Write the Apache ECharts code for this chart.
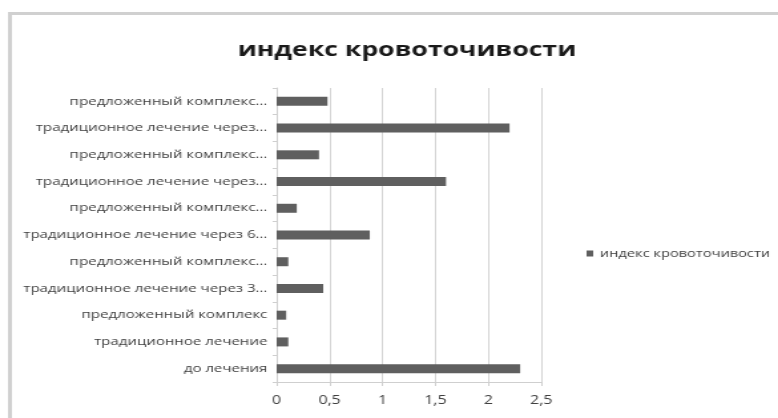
<!DOCTYPE html>
<html>
<head>
    <meta charset="utf-8">
    <title>индекс кровоточивости</title>
    <script src="https://cdn.jsdelivr.net/npm/echarts@6/dist/echarts.min.js"></script>
    <style>
        html, body { margin: 0; padding: 0; background: #fff; overflow: hidden; }
        /* исходная картинка растянута по горизонтали, повторяем это */
        #chart1 { width: 585px; height: 418px; transform: scaleX(1.33); transform-origin: 0 0; }
    </style>
</head>
<body>
<div id="chart1"></div>
<script type="text/javascript">
    // категории снизу вверх
    var categories = [
        'до лечения',
        'традиционное лечение',
        'предложенный комплекс',
        'традиционное лечение через 3...',
        'предложенный комплекс...',
        'традиционное лечение через 6...',
        'предложенный комплекс...',
        'традиционное лечение через...',
        'предложенный комплекс...',
        'традиционное лечение через...',
        'предложенный комплекс...'
    ];
    var values = [2.3, 0.11, 0.09, 0.44, 0.11, 0.88, 0.19, 1.6, 0.4, 2.2, 0.48];
    var xTicks = [0, 0.5, 1, 1.5, 2, 2.5];
    var seriesName = 'индекс кровоточивости';

    // у категорий повторяются подписи, поэтому ось строится по индексам
    var idx = categories.map(function (c, i) { return String(i); });

    var myChart1 = echarts.init(document.getElementById('chart1'));
    myChart1.setOption({
        animation: false,
        graphic: [{
            type: 'rect',
            shape: { x: 7.5, y: 13.5, width: 700, height: 420 },
            style: { fill: 'none', stroke: '#d0d0d0', lineWidth: 3 },
            z: -1
        }],
        title: {
            text: seriesName,
            left: 301,
            top: 35,
            textAlign: 'center',
            textStyle: {
                fontFamily: 'Open Sans',
                fontWeight: 'bold',
                fontSize: 20,
                color: '#1a1a1a'
            }
        },
        legend: {
            left: 436,
            top: 243,
            itemWidth: 5,
            itemHeight: 6,
            itemGap: 5,
            icon: 'rect',
            data: [seriesName],
            textStyle: { fontFamily: 'Open Sans', fontSize: 11, color: '#404040' }
        },
        grid: { left: 208, right: 178, top: 88, bottom: 36, containLabel: false },
        xAxis: {
            type: 'value',
            min: xTicks[0],
            max: xTicks[xTicks.length - 1],
            interval: 0.5,
            axisLine: { show: true, lineStyle: { color: '#cfcfcf', width: 1 } },
            axisTick: { show: true, length: 4, lineStyle: { color: '#cfcfcf' } },
            splitLine: { show: true, lineStyle: { color: '#d4d4d4', width: 1 } },
            axisLabel: {
                margin: 13,
                fontFamily: 'Open Sans',
                fontSize: 12,
                color: '#404040',
                formatter: function (v) { return String(v).replace('.', ','); }
            }
        },
        yAxis: {
            type: 'category',
            data: idx,
            axisLine: { show: true, lineStyle: { color: '#cfcfcf', width: 1 } },
            axisTick: { show: true, length: 3, lineStyle: { color: '#cfcfcf' } },
            axisLabel: {
                margin: 7,
                fontFamily: 'Open Sans',
                fontSize: 11.3,
                color: '#404040',
                formatter: function (v) { return categories[+v]; }
            }
        },
        series: [{
            name: seriesName,
            type: 'bar',
            barWidth: 9,
            data: values,
            itemStyle: { color: '#5f5f5f' }
        }]
    });
</script>
</body>
</html>
